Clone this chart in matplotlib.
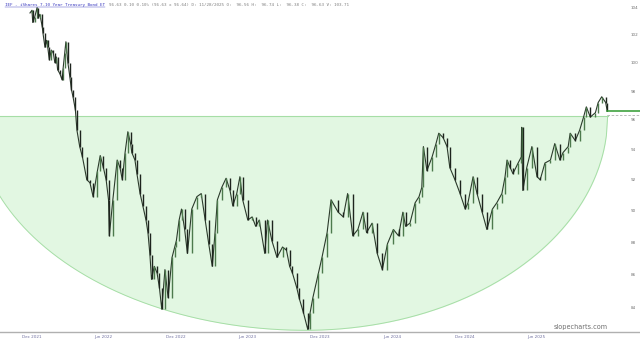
import numpy as np
import pandas as pd
import matplotlib
matplotlib.use("Agg")
import matplotlib.pyplot as plt
import matplotlib.dates as mdates

# IEF closes (log scale, ~1-2 week steps)
dates = [
    "2021-11-26", "2021-12-01", "2021-12-03", "2021-12-08", "2021-12-14", "2021-12-16",
    "2021-12-21", "2021-12-27", "2021-12-29", "2022-01-03", "2022-01-07", "2022-01-10",
    "2022-01-14", "2022-01-19", "2022-01-24", "2022-01-28", "2022-02-01", "2022-02-04",
    "2022-02-10", "2022-02-15", "2022-02-18", "2022-02-22", "2022-02-25", "2022-03-02",
    "2022-03-07", "2022-03-11", "2022-03-15", "2022-03-21", "2022-03-25", "2022-04-01",
    "2022-04-08", "2022-04-19", "2022-04-27", "2022-05-05", "2022-05-16", "2022-05-23",
    "2022-05-31", "2022-06-07", "2022-06-13", "2022-06-15", "2022-06-24", "2022-07-05",
    "2022-07-12", "2022-07-18", "2022-07-25", "2022-08-01", "2022-08-08", "2022-08-11",
    "2022-08-19", "2022-08-24", "2022-09-01", "2022-09-08", "2022-09-16", "2022-09-21",
    "2022-09-26", "2022-09-30", "2022-10-07", "2022-10-14", "2022-10-20", "2022-10-26",
    "2022-11-03", "2022-11-11", "2022-11-21", "2022-11-28", "2022-12-02", "2022-12-09",
    "2022-12-15", "2022-12-23", "2022-12-30", "2023-01-10", "2023-01-23", "2023-02-03",
    "2023-02-13", "2023-02-22", "2023-03-03", "2023-03-10", "2023-03-16", "2023-03-27",
    "2023-04-07", "2023-04-17", "2023-04-24", "2023-05-04", "2023-05-12", "2023-05-19",
    "2023-06-01", "2023-06-12", "2023-06-21", "2023-06-30", "2023-07-14", "2023-07-21",
    "2023-08-01", "2023-08-14", "2023-08-28", "2023-09-07", "2023-09-15", "2023-09-22",
    "2023-10-03", "2023-10-10", "2023-10-20", "2023-10-31", "2023-11-06", "2023-11-13",
    "2023-11-27", "2023-12-06", "2023-12-19", "2023-12-29", "2024-01-16", "2024-01-29",
    "2024-02-09", "2024-02-22", "2024-03-06", "2024-03-19", "2024-03-28", "2024-04-11",
    "2024-04-24", "2024-05-07", "2024-05-20", "2024-06-04", "2024-06-17", "2024-06-28",
    "2024-07-05", "2024-07-16", "2024-07-29", "2024-08-08", "2024-08-15", "2024-08-19",
    "2024-08-28", "2024-09-10", "2024-09-20", "2024-09-27", "2024-10-08", "2024-10-18",
    "2024-10-25", "2024-11-07", "2024-11-20", "2024-12-03", "2024-12-10", "2024-12-23",
    "2025-01-02", "2025-01-15", "2025-01-27", "2025-02-10", "2025-02-21", "2025-03-06",
    "2025-03-14", "2025-03-19", "2025-03-27", "2025-04-03", "2025-04-16", "2025-04-24",
    "2025-04-25", "2025-04-28", "2025-05-08", "2025-05-21", "2025-06-03", "2025-06-11",
    "2025-06-23", "2025-07-07", "2025-07-18", "2025-07-31", "2025-08-08", "2025-08-21",
    "2025-08-26", "2025-09-08", "2025-09-19", "2025-09-29", "2025-10-06", "2025-10-16",
    "2025-10-29", "2025-11-05", "2025-11-14", "2025-11-24", "2025-11-28",
]
closes = [
    103.6, 103.8, 102.9, 103.3, 104.0, 103.2,
    103.5, 102.6, 102.1, 101.1, 101.6, 101.1,
    100.2, 100.9, 100.7, 100.0, 100.4, 99.5,
    99.2, 98.8, 99.6, 100.7, 101.5, 100.0,
    99.0, 98.1, 97.6, 96.7, 95.3, 94.2,
    93.5, 92.0, 91.8, 90.9, 92.6, 93.6,
    92.8, 92.0, 90.7, 88.4, 90.7, 93.3,
    92.8, 92.0, 93.8, 95.2, 94.4, 93.8,
    93.3, 92.4, 91.1, 90.3, 89.4, 88.6,
    87.2, 85.7, 86.5, 86.1, 85.2, 83.9,
    86.3, 84.6, 87.05, 87.7, 88.1, 89.4,
    90.1, 88.8, 87.3, 90.1, 90.9, 91.1,
    89.4, 87.9, 86.5, 88.6, 90.7, 91.5,
    92.1, 91.3, 90.3, 91.1, 92.2, 90.7,
    89.4, 89.6, 89.0, 89.4, 87.3, 89.4,
    88.1, 87.05, 87.7, 87.5, 86.5, 86.1,
    85.2, 84.5, 83.7, 82.7, 83.7, 84.6,
    86.1, 87.05, 88.6, 90.7, 89.9, 89.6,
    91.1, 88.4, 88.8, 89.9, 88.6, 89.2,
    87.3, 86.3, 87.9, 88.8, 88.4, 89.9,
    89.0, 89.2, 90.5, 90.9, 91.5, 94.2,
    92.6, 93.5, 94.4, 95.1, 94.8, 94.2,
    92.8, 92.0, 91.1, 90.1, 90.5, 92.2,
    91.1, 89.9, 88.8, 90.1, 90.5, 91.1,
    92.2, 93.3, 92.8, 92.4, 93.1, 93.5,
    95.5, 91.3, 92.8, 94.2, 92.2, 92.0,
    93.1, 93.3, 94.4, 93.3, 93.8, 94.2,
    95.1, 94.6, 95.3, 96.2, 96.9, 96.2,
    96.5, 97.2, 97.6, 97.2, 96.6,
]

tick_dates = ["2021-12-01", "2022-06-01", "2022-12-01", "2023-06-01",
              "2023-12-01", "2024-06-01", "2024-12-01", "2025-06-01"]
y_ticks = [84, 86, 88, 90, 92, 94, 96, 98, 100, 102, 104]

last_price = 96.63
ref_price = 96.32
neck_price = 96.27
cup_bottom = 82.65
cup_center = "2023-10-26"
cup_left_days = 836
cup_right_days = 765

title_name = "IEF - iShares 7-10 Year Treasury Bond ET"
title_vals = ("96.63 0.10 0.10% (96.63 x 96.64) D: 11/28/2025 O:  96.56 "
              "H:  96.74 L:  96.38 C:  96.63 V: 103.71")

dt = pd.to_datetime(dates)
x = mdates.date2num(dt)
c = np.array(closes)

fig = plt.figure(figsize=(6.4, 3.43), dpi=100)
ax = fig.add_axes([0, 11 / 343, 1, 332 / 343])

x0 = mdates.date2num(pd.Timestamp("2021-09-11"))
x1 = mdates.date2num(pd.Timestamp("2026-02-19"))

# cup outline: half ellipse in log space, wider on the left
cx = mdates.date2num(pd.Timestamp(cup_center))
depth = np.log(neck_price) - np.log(cup_bottom)
xs = np.linspace(cx - cup_left_days, cx + cup_right_days, 500)
half = np.where(xs < cx, cup_left_days, cup_right_days)
u = np.clip(1 - ((xs - cx) / half) ** 2, 0, 1)
ys = np.exp(np.log(neck_price) - depth * np.sqrt(u))
ax.fill_between(xs, ys, neck_price, color="#e2f7e2", lw=0, zorder=1)
ax.plot(xs, ys, color="#a6dea6", lw=0.7, zorder=2)
ax.plot([x0, cx + cup_right_days], [neck_price, neck_price], color="#a6dea6", lw=0.8, zorder=2)

# price bars
opens = np.r_[c[0], c[:-1]]
up = c >= opens
ax.plot(x, c, color="#2b3a2b", lw=0.8, zorder=3)
ax.vlines(x[up], opens[up], c[up], color="#4d7a4d", lw=1.0, zorder=4)
ax.vlines(x[~up], c[~up], opens[~up], color="#1e241e", lw=1.0, zorder=4)

# last price lines
ax.plot([x[-1], x1], [last_price, last_price], color="#2f9a2f", lw=1.1, zorder=5)
ax.plot([x[-1], x1], [ref_price, ref_price], color="#b0b0b0", lw=0.6, ls=(0, (3, 2)), zorder=5)

ax.set_yscale("log")
ax.set_xlim(x0, x1)
ax.set_ylim(82.55, 104.56)

ax.yaxis.tick_right()
ax.set_yticks(y_ticks)
ax.set_yticklabels([str(v) for v in y_ticks])
ax.yaxis.set_minor_locator(matplotlib.ticker.NullLocator())
ax.tick_params(axis="y", length=0, pad=-7, labelsize=3, labelcolor="#707070")

ax.set_xticks(mdates.date2num(pd.to_datetime(tick_dates)))
ax.set_xticklabels([d.strftime("%b %Y") for d in pd.to_datetime(tick_dates)])
ax.tick_params(axis="x", length=0, pad=2, labelsize=3, labelcolor="#7070a0")

for s in ["top", "left", "right"]:
    ax.spines[s].set_visible(False)
ax.spines["bottom"].set_color("#b0b0b0")
ax.spines["bottom"].set_linewidth(1.0)

t = fig.text(5 / 640, 1 - 5 / 343, title_name, fontsize=3.05, color="#3a3ac0",
             family="DejaVu Sans Mono", ha="left", va="center")
fig.canvas.draw()
bb = t.get_window_extent()
fig.add_artist(plt.Line2D([bb.x0 / 640, bb.x1 / 640], [bb.y0 / 343, bb.y0 / 343],
                          color="#3a3ac0", lw=0.3))
fig.text(bb.x1 / 640 + 4 / 640, 1 - 5 / 343, title_vals, fontsize=3.05, color="#808080",
         family="DejaVu Sans Mono", ha="left", va="center")

fig.text(608 / 640, 1 - 327 / 343, "slopecharts.com", fontsize=4.7, color="#6e6e6e",
         ha="right", va="center")

fig.savefig("out.png", dpi=100)
